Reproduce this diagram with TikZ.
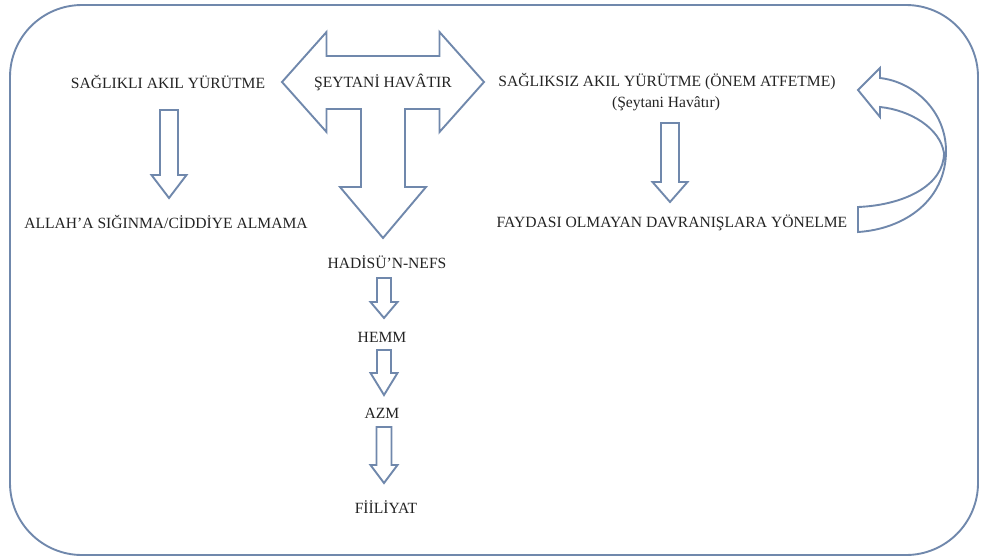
\documentclass[tikz,border=0pt]{standalone}
\usepackage{fontspec}
\setmainfont{Liberation Serif}
\definecolor{edgeblue}{RGB}{112,136,172}
\definecolor{txt}{RGB}{35,35,35}
\newcommand{\DArrow}[6]{% cx, ytop, yneck, ytip, halfshaft, halfhead
  \draw[blk] (#1-#5,#2) -- (#1+#5,#2) -- (#1+#5,#3) -- (#1+#6,#3) -- (#1,#4) -- (#1-#6,#3) -- (#1-#5,#3) -- cycle;}
\begin{document}
\begin{tikzpicture}[x=1pt,y=-1pt,
  blk/.style={draw=edgeblue,line width=1.9pt,fill=white,line join=miter},
  lbl/.style={text=txt,font=\fontsize{15.6}{17}\selectfont,inner sep=1pt}]
\useasboundingbox (0,0) rectangle (982,558);
% outer frame
\draw[draw=edgeblue,line width=1.9pt,rounded corners=72pt] (10,5) rectangle (978,555);
% big T arrow
\draw[blk] (282,82) -- (326.5,32) -- (326.5,56) -- (439.5,56) -- (439.5,32) -- (484,82)
  -- (439.5,132) -- (439.5,109) -- (405,109) -- (405,187) -- (426,187) -- (383,238)
  -- (340,187) -- (361,187) -- (361,109) -- (326.5,109) -- (326.5,132) -- cycle;
\node[lbl] (sh) at (383,82) {ŞEYTANİ HAVÂTIR};
\node[lbl] (sag) at (168,82) {SAĞLIKLI AKIL YÜRÜTME};
\node[lbl] (sagsiz) at (667,82) {SAĞLIKSIZ AKIL YÜRÜTME (ÖNEM ATFETME)};
\node[lbl] (sh2) at (666,104) {(Şeytani Havâtır)};
\node[lbl] (allah) at (166,222) {ALLAH’A SIĞINMA/CİDDİYE ALMAMA};
\node[lbl] (fay) at (672,223) {FAYDASI OLMAYAN DAVRANIŞLARA YÖNELME};
\node[lbl] (had) at (387,262) {HADİSÜ’N-NEFS};
\node[lbl] (hemm) at (382,337) {HEMM};
\node[lbl] (azm) at (382,413) {AZM};
\node[lbl] (fil) at (386,507) {FİİLİYAT};
% small block arrows
\DArrow{169}{110}{175}{198}{9}{17.5}
\DArrow{670}{123}{182}{202}{9}{17.5}
\DArrow{384}{278}{302}{318}{7}{13.5}
\DArrow{384}{350}{373}{395}{7}{13.5}
\DArrow{384}{427}{465}{483}{7.5}{13.5}
% curved return arrow
\draw[blk] (858,232) .. controls (905,229) and (946,200) .. (946,151)
  .. controls (946,112) and (915,82) .. (880,78) -- (880,68) -- (858,90) -- (880,117) -- (880,107)
  .. controls (910,110) and (940,128) .. (944,153)
  .. controls (944,185) and (905,205) .. (858,207) -- cycle;
\end{tikzpicture}
\end{document}
